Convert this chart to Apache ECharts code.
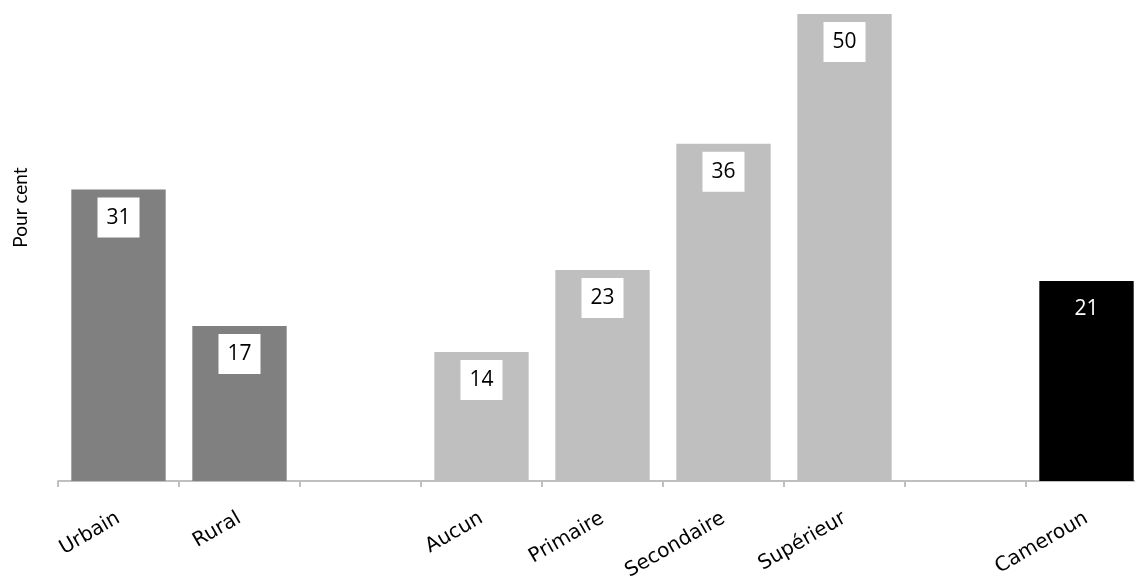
<!DOCTYPE html>
<html>
<head>
<meta charset="utf-8">
<script src="https://cdn.jsdelivr.net/npm/echarts@6/dist/echarts.min.js"></script>
<style>
html,body{margin:0;padding:0;background:#fff;}
#chart{width:1135px;height:579px;}
</style>
</head>
<body>
<div id="chart"></div>
<script>
const categories = ['Urbain', 'Rural', '', 'Aucun', 'Primaire', 'Secondaire', 'Supérieur', '', 'Cameroun'];
const values = [31.2, 16.6, null, 13.8, 22.6, 36.1, 50.0, null, 21.4];
const barColors = ['#808080', '#808080', '#808080', '#bfbfbf', '#bfbfbf', '#bfbfbf', '#bfbfbf', '#000000', '#000000'];
const yAxisName = 'Pour cent';

const chart = echarts.init(document.getElementById('chart'));
const data = values.map((v, i) => {
  const isTotal = categories[i] === 'Cameroun';
  return {
    value: v,
    itemStyle: { color: barColors[i] },
    label: isTotal
      ? { backgroundColor: 'transparent', color: '#ffffff' }
      : { backgroundColor: '#ffffff', color: '#000000' }
  };
});

chart.setOption({
  animation: false,
  grid: { left: 58, right: -12, top: 14, bottom: 98, containLabel: false, outerBoundsMode: 'none' },
  xAxis: {
    type: 'category',
    data: categories,
    axisLine: { lineStyle: { color: '#bfbfbf', width: 2 } },
    axisTick: { show: true, length: 6, lineStyle: { color: '#bfbfbf', width: 2 } },
    axisLabel: {
      rotate: 30,
      margin: 36,
      fontFamily: 'DejaVu Sans',
      fontSize: 20,
      color: '#000000',
      interval: 0
    }
  },
  yAxis: {
    type: 'value',
    min: 0,
    max: 50,
    show: true,
    name: yAxisName,
    nameLocation: 'middle',
    nameRotate: 90,
    nameGap: 28,
    nameTextStyle: { fontFamily: 'Lato', fontSize: 19, color: '#000000', padding: [0, 0, 0, 80] },
    axisLine: { show: false },
    axisTick: { show: false },
    axisLabel: { show: false },
    splitLine: { show: false }
  },
  series: [{
    type: 'bar',
    data: data,
    barWidth: '78%',
    label: {
      show: true,
      position: 'insideTop',
      distance: 8,
      formatter: p => Math.round(p.value),
      fontFamily: 'Open Sans',
      fontSize: 21,
      lineHeight: 24,
      padding: [8, 9, 8, 9]
    }
  }]
});
</script>
</body>
</html>
